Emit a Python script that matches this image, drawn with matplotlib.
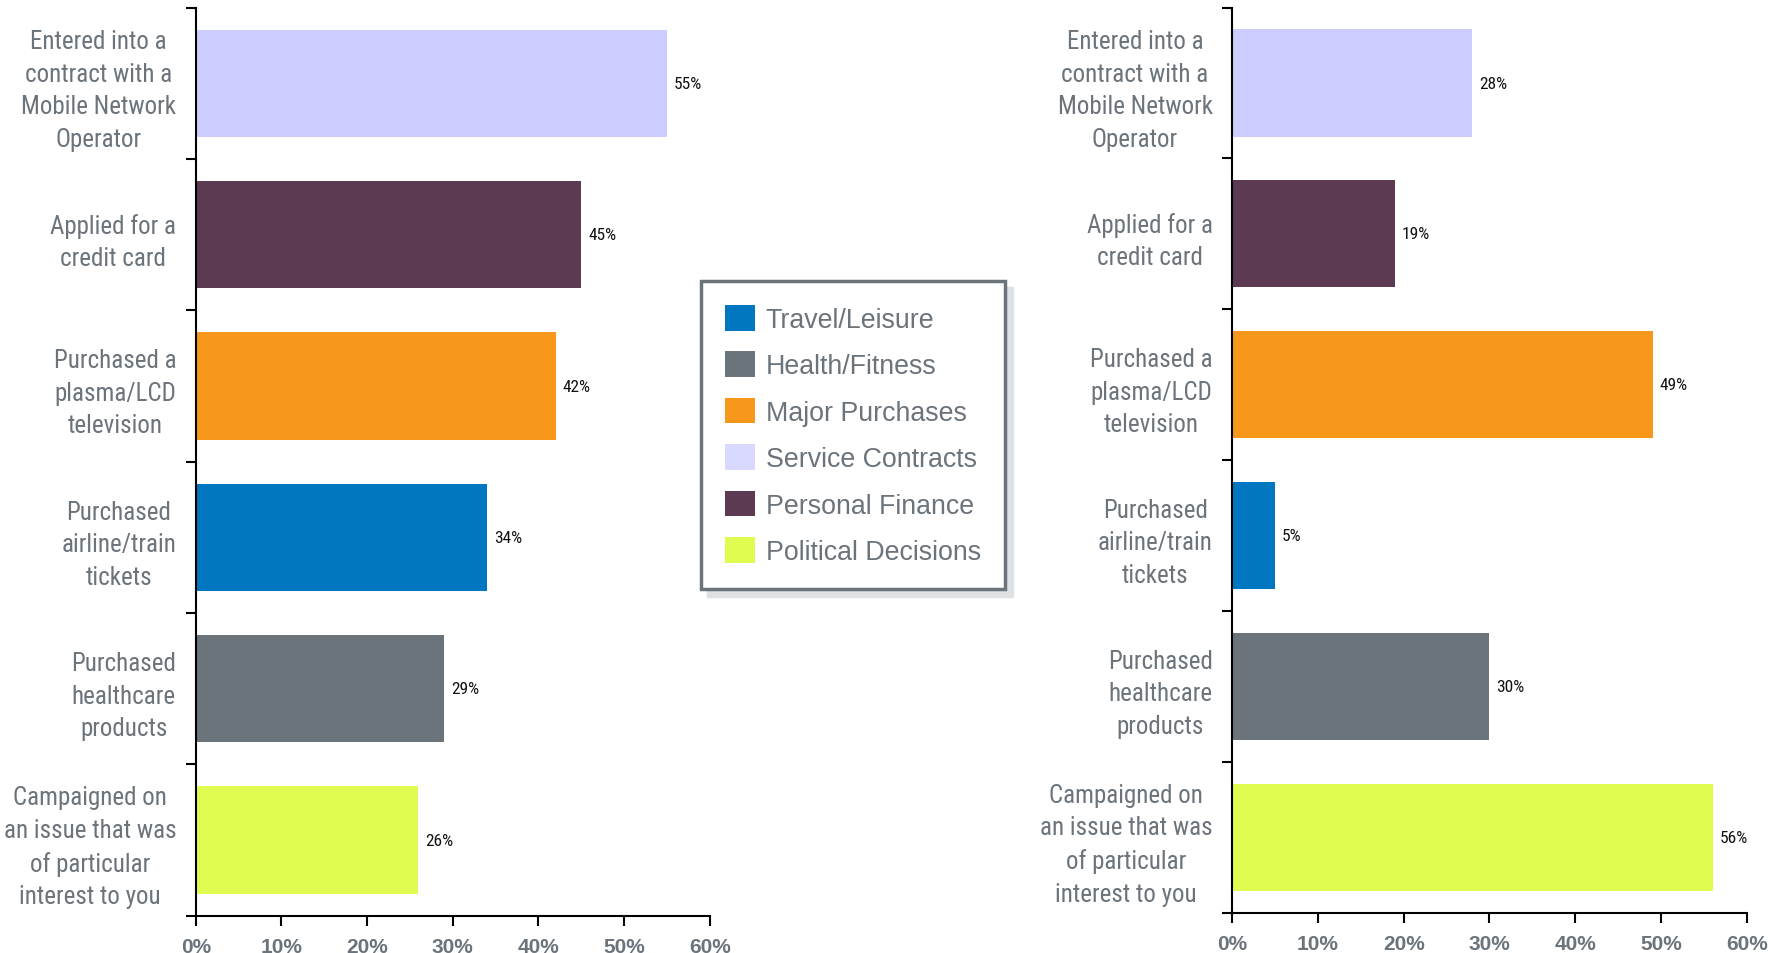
import matplotlib
matplotlib.use('Agg')
import matplotlib.pyplot as plt
from matplotlib.patches import Patch
from matplotlib import font_manager
import numpy as np
import os

# categories, top to bottom
categories = ['Entered into a\ncontract with a\nMobile Network\nOperator',
              'Applied for a\ncredit card',
              'Purchased a\nplasma/LCD\ntelevision',
              'Purchased\nairline/train\ntickets',
              'Purchased\nhealthcare\nproducts',
              'Campaigned on\nan issue that was\nof particular\ninterest to you']
left_values = [55, 45, 42, 34, 29, 26]
right_values = [28, 19, 49, 5, 30, 56]
bar_colors = ['#ccccff', '#5c3a52', '#f7981d', '#0077c0', '#6b737b', '#e0fc50']

legend_labels = ['Travel/Leisure', 'Health/Fitness', 'Major Purchases',
                 'Service Contracts', 'Personal Finance', 'Political Decisions']
legend_colors = ['#0077c0', '#6b737b', '#f7981d', '#d9d9ff', '#5c3a52', '#e0fc50']
x_ticks = [0, 10, 20, 30, 40, 50, 60]

GRAY = '#6b737b'


def narrow_font(size):
    # condensed face for the category and value labels
    for f in font_manager.findSystemFonts():
        if os.path.basename(f) == 'RobotoCondensed-Regular.ttf':
            return font_manager.FontProperties(fname=f, size=size)
    return font_manager.FontProperties(family='Liberation Sans', size=size)


fig = plt.figure(figsize=(17.79, 9.54), dpi=100)


def draw_panel(rect, values):
    ax = fig.add_axes(rect)
    y = np.arange(len(categories))
    ax.barh(y, values, height=0.71, color=bar_colors)
    ax.set_ylim(len(categories) - 0.5, -0.5)
    ax.set_xlim(0, 60)
    for yi, v in zip(y, values):
        ax.text(v + 0.8, yi, f'{v}%', va='center', ha='left',
                fontproperties=narrow_font(12.5), color='#111111')

    ax.set_yticks(y)
    ax.set_yticklabels(categories, fontproperties=narrow_font(18), color=GRAY,
                       linespacing=1.45)
    for lbl in ax.get_yticklabels():
        lbl.set_multialignment('center')
    ax.tick_params(axis='y', which='major', length=0, pad=14)
    ax.set_yticks(np.arange(len(categories) + 1) - 0.5, minor=True)
    ax.tick_params(axis='y', which='minor', length=7, width=1.5, direction='out')

    ax.set_xticks(x_ticks)
    ax.set_xticklabels([f'{t}%' for t in x_ticks], fontsize=15, fontweight='bold',
                       color=GRAY, family='Liberation Sans')
    ax.tick_params(axis='x', length=7, width=1.5, direction='out', pad=8)

    for side in ('top', 'right'):
        ax.spines[side].set_visible(False)
    for side in ('left', 'bottom'):
        ax.spines[side].set_linewidth(1.5)
    return ax


draw_panel([0.110, 0.039, 0.289, 0.952], left_values)
draw_panel([0.6925, 0.042, 0.2895, 0.949], right_values)

handles = [Patch(facecolor=c, edgecolor='none') for c in legend_colors]
leg = fig.legend(handles, legend_labels, loc='center', bbox_to_anchor=(0.4795, 0.543),
                 prop={'family': 'Liberation Sans', 'size': 19.3},
                 labelcolor=GRAY, handlelength=1.1, handleheight=1.1,
                 handletextpad=0.4, labelspacing=0.69, borderpad=0.9,
                 fancybox=False, framealpha=1,
                 shadow={'ox': 5, 'oy': -5, 'color': '#dfe2e5', 'alpha': 1})
leg.get_frame().set_edgecolor(GRAY)
leg.get_frame().set_linewidth(2.5)

fig.savefig('out.png', dpi=100)
